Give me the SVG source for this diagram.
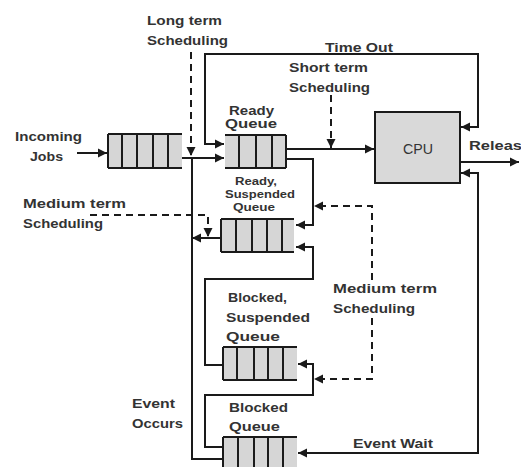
<svg xmlns="http://www.w3.org/2000/svg" width="521" height="467" viewBox="0 0 521 467">
  <defs>
    <marker id="arrow" markerUnits="userSpaceOnUse" markerWidth="10" markerHeight="10" refX="9" refY="5" orient="auto-start-reverse">
      <path d="M0,0.5 L9,5 L0,9.5 z" fill="#1a1a1a"/>
    </marker>
    <style>
      .lbl { font-family: "Liberation Sans", Arial, sans-serif; font-weight: bold; font-size: 13px; fill: #333; }
      .sm { font-size: 12px; }
      .xs { font-size: 11px; }
      .cpu { font-family: "Liberation Sans", Arial, sans-serif; font-size: 14px; fill: #333; }
      .cell { fill: #d6d6d6; stroke: none; }
      .qline { stroke: #1a1a1a; stroke-width: 2; fill: none; }
      .wire { stroke: #1a1a1a; stroke-width: 2; fill: none; }
      .dash { stroke: #1a1a1a; stroke-width: 2; fill: none; stroke-dasharray: 7 5; }
    </style>
  </defs>
  <rect width="521" height="467" fill="#ffffff"/>

  <!-- queues -->
  <g id="incoming-queue">
    <rect class="cell" x="108" y="134" width="74" height="34"/>
    <path class="qline" d="M108,134 H182 M108,168 H182 M108,134 V168 M122,134 V168 M137,134 V168 M153,134 V168 M168,134 V168"/>
  </g>
  <g id="ready-queue">
    <rect class="cell" x="225" y="135" width="61" height="33"/>
    <path class="qline" d="M225,135 H286 M225,168 H286 M239,135 V168 M256,135 V168 M272,135 V168 M286,135 V168"/>
    <text class="lbl sm" x="229" y="115" textLength="45" lengthAdjust="spacingAndGlyphs">Ready</text>
    <text class="lbl sm" x="225" y="128" textLength="52" lengthAdjust="spacingAndGlyphs">Queue</text>
  </g>
  <g id="ready-suspended-queue">
    <rect class="cell" x="221" y="219" width="73" height="33"/>
    <path class="qline" d="M221,219 H294 M221,252 H294 M221,219 V252 M236,219 V252 M252,219 V252 M267,219 V252 M282,219 V252"/>
    <text class="lbl xs" x="235" y="185" textLength="42" lengthAdjust="spacingAndGlyphs">Ready,</text>
    <text class="lbl xs" x="225" y="198" textLength="70" lengthAdjust="spacingAndGlyphs">Suspended</text>
    <text class="lbl xs" x="233" y="211" textLength="42" lengthAdjust="spacingAndGlyphs">Queue</text>
  </g>
  <g id="blocked-suspended-queue">
    <rect class="cell" x="223" y="347" width="74" height="33"/>
    <path class="qline" d="M223,347 H297 M223,380 H297 M223,347 V380 M237,347 V380 M254,347 V380 M268,347 V380 M283,347 V380"/>
    <text class="lbl" x="228" y="302" textLength="59" lengthAdjust="spacingAndGlyphs">Blocked,</text>
    <text class="lbl" x="226" y="322" textLength="84" lengthAdjust="spacingAndGlyphs">Suspended</text>
    <text class="lbl" x="226" y="341" textLength="54" lengthAdjust="spacingAndGlyphs">Queue</text>
  </g>
  <g id="blocked-queue">
    <rect class="cell" x="223" y="437" width="74" height="34"/>
    <path class="qline" d="M223,437 H297 M223,437 V471 M238,437 V471 M254,437 V471 M268,437 V471 M283,437 V471"/>
    <text class="lbl" x="229" y="412" textLength="59" lengthAdjust="spacingAndGlyphs">Blocked</text>
    <text class="lbl" x="229" y="431" textLength="51" lengthAdjust="spacingAndGlyphs">Queue</text>
  </g>
  <g id="cpu">
    <rect x="375" y="112" width="85" height="71" fill="#d9d9d9" stroke="#1a1a1a" stroke-width="2"/>
    <text class="cpu" x="418" y="154" text-anchor="middle" textLength="30" lengthAdjust="spacingAndGlyphs">CPU</text>
  </g>

  <!-- connectors -->
  <g id="connectors">
    <path class="wire" d="M77,153 H107" marker-end="url(#arrow)"/>
    <path class="wire" d="M182,158 H224" marker-end="url(#arrow)"/>
    <path class="wire" d="M461,127 H478 V54 H205 V144 H224" marker-start="url(#arrow)" marker-end="url(#arrow)"/>
    <path class="wire" d="M286,149 H374" marker-end="url(#arrow)"/>
    <path class="wire" d="M460,162 H519" marker-end="url(#arrow)"/>
    <path class="wire" d="M461,173 H478 V453 H298" marker-start="url(#arrow)" marker-end="url(#arrow)"/>
    <path class="wire" d="M286,159 H313 V225 H296" marker-end="url(#arrow)"/>
    <path class="wire" d="M223,365 H205 V279 H313 V247 H296" marker-end="url(#arrow)"/>
    <path class="wire" d="M223,447 H205 V395 H313 V364 H298" marker-end="url(#arrow)"/>
    <path class="wire" d="M223,459 H192 V158"/>
    <path class="wire" d="M221,238 H192" marker-end="url(#arrow)"/>
    <path class="dash" d="M191,52 V156" marker-end="url(#arrow)"/>
    <path class="dash" d="M331,95 V148" marker-end="url(#arrow)"/>
    <path class="dash" d="M90,215 H208 V237" marker-end="url(#arrow)"/>
    <path class="dash" d="M372,280 V206 H314" marker-end="url(#arrow)"/>
    <path class="dash" d="M372,318 V379 H314" marker-end="url(#arrow)"/>
  </g>

  <!-- connector labels -->
  <g id="labels">
    <text class="lbl" x="147" y="25" textLength="75" lengthAdjust="spacingAndGlyphs">Long term</text>
    <text class="lbl" x="147" y="45" textLength="81" lengthAdjust="spacingAndGlyphs">Scheduling</text>
    <text class="lbl" x="325" y="52" textLength="68" lengthAdjust="spacingAndGlyphs">Time Out</text>
    <text class="lbl" x="289" y="72" textLength="79" lengthAdjust="spacingAndGlyphs">Short term</text>
    <text class="lbl" x="289" y="92" textLength="81" lengthAdjust="spacingAndGlyphs">Scheduling</text>
    <text class="lbl" x="15" y="141" textLength="67" lengthAdjust="spacingAndGlyphs">Incoming</text>
    <text class="lbl" x="30" y="161" textLength="33" lengthAdjust="spacingAndGlyphs">Jobs</text>
    <text class="lbl" x="469" y="150" textLength="62" lengthAdjust="spacingAndGlyphs">Release</text>
    <text class="lbl" x="23" y="208" textLength="103" lengthAdjust="spacingAndGlyphs">Medium term</text>
    <text class="lbl" x="23" y="228" textLength="80" lengthAdjust="spacingAndGlyphs">Scheduling</text>
    <text class="lbl" x="333" y="293" textLength="104" lengthAdjust="spacingAndGlyphs">Medium term</text>
    <text class="lbl" x="333" y="313" textLength="82" lengthAdjust="spacingAndGlyphs">Scheduling</text>
    <text class="lbl" x="132" y="408" textLength="43" lengthAdjust="spacingAndGlyphs">Event</text>
    <text class="lbl" x="132" y="428" textLength="51" lengthAdjust="spacingAndGlyphs">Occurs</text>
    <text class="lbl" x="353" y="448" textLength="80" lengthAdjust="spacingAndGlyphs">Event Wait</text>
  </g>
</svg>
